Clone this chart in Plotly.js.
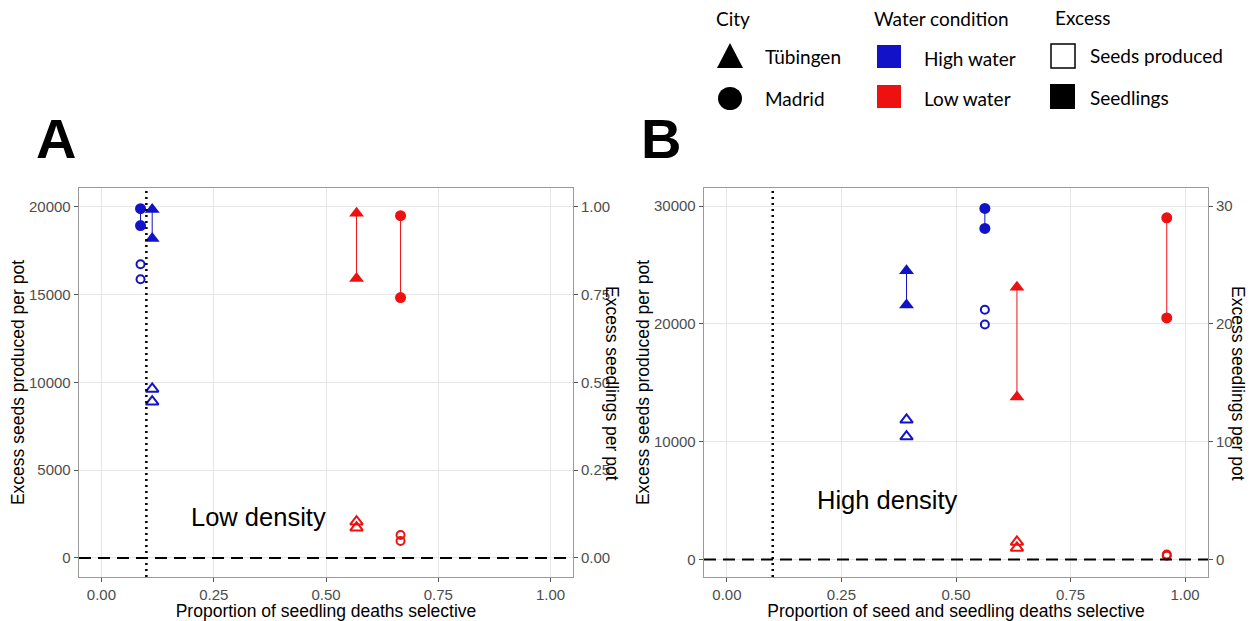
<!DOCTYPE html>
<html>
<head>
<meta charset="utf-8">
<script src="https://cdn.plot.ly/plotly-3.0.1.min.js"></script>
<style>html,body{margin:0;padding:0;background:#fff;} #chart{width:1253px;height:621px;}</style>
</head>
<body>
<div id="chart"></div>
<script>
// ---- Data ----
// group order: Tübingen-High, Madrid-High, Tübingen-Low, Madrid-Low
const groupCity  = ['Tübingen', 'Madrid', 'Tübingen', 'Madrid'];
const groupWater = ['High water', 'High water', 'Low water', 'Low water'];

// Panel A: low density
const lowDensityX = [0.113, 0.087, 0.568, 0.666];            // proportion of seedling deaths selective
const lowDensitySeedsProduced = [[9630, 8905], [16735, 15880], [2070, 1730], [1310, 970]];
const lowDensitySeedlings     = [[0.993, 0.910], [0.995, 0.947], [0.982, 0.796], [0.975, 0.742]];

// Panel B: high density
const highDensityX = [0.392, 0.563, 0.633, 0.960];           // proportion of seed and seedling deaths selective
const highDensitySeedsProduced = [[11860, 10440], [21200, 19950], [1500, 990], [430, 330]];
const highDensitySeedlings     = [[24.5, 21.6], [29.8, 28.1], [23.1, 13.8], [29.0, 20.5]];

const selectiveThreshold = 0.1;
const xTicks = [0, 0.25, 0.5, 0.75, 1];
const aSeedTicks = [0, 5000, 10000, 15000, 20000];
const aSeedlingTicks = [0, 0.25, 0.5, 0.75, 1];
const bSeedTicks = [0, 10000, 20000, 30000];
const bSeedlingTicks = [0, 10, 20, 30];

// ---- Styles ----
const COL = {'High water': '#1212c8', 'Low water': '#ee1111'};
const SYM = {'Tübingen': 'triangle-up', 'Madrid': 'circle'};
const W = 1253, H = 621;
const px = v => v / W, py = v => 1 - v / H;

function panelTraces(xs, seeds, seedlings, xa, ya, ya2) {
  const tr = [];
  for (let i = 0; i < xs.length; i++) {
    const c = COL[groupWater[i]], s = SYM[groupCity[i]];
    const tri = groupCity[i] === 'Tübingen';
    tr.push({
      type: 'scatter', mode: 'lines+markers', xaxis: xa, yaxis: ya2,
      x: [xs[i], xs[i]], y: seedlings[i],
      line: {color: c, width: 1},
      marker: {symbol: s, color: c, size: tri ? 13 : 11},
      showlegend: false, hoverinfo: 'x+y'
    });
    tr.push({
      type: 'scatter', mode: 'markers', xaxis: xa, yaxis: ya,
      x: [xs[i], xs[i]], y: seeds[i],
      marker: {symbol: s + '-open', color: c, size: tri ? 11 : 8, line: {color: c, width: 2}},
      showlegend: false, hoverinfo: 'x+y'
    });
  }
  return tr;
}

const data = [].concat(
  panelTraces(lowDensityX, lowDensitySeedsProduced, lowDensitySeedlings, 'x', 'y', 'y2'),
  panelTraces(highDensityX, highDensitySeedsProduced, highDensitySeedlings, 'x2', 'y3', 'y4')
);

const FAM = 'Liberation Sans, Arial, sans-serif';
const tickFont = {family: FAM, size: 15, color: '#4d4d4d'};
const titleFont = {family: FAM, size: 17.5, color: '#000'};
const gridC = '#e6e6e6', lineC = '#9a9a9a';

function xAx(domain, anchor, title) {
  return {domain, anchor, range: [-0.05, 1.05], tickvals: xTicks, tickformat: '.2f',
    showgrid: true, gridcolor: gridC, gridwidth: 1, zeroline: false,
    showline: true, mirror: true, linecolor: lineC, linewidth: 1.3,
    ticks: 'outside', ticklen: 4, tickcolor: '#555', tickfont: tickFont,
    title: {text: title, font: titleFont, standoff: 1},
    automargin: false, fixedrange: true};
}
function yAx(domain, anchor, range, ticks, title) {
  return {domain, anchor, range, tickvals: ticks, tickformat: 'd',
    showgrid: true, gridcolor: gridC, gridwidth: 1, zeroline: false,
    showline: true, mirror: true, linecolor: lineC, linewidth: 1.3,
    ticks: 'outside', ticklen: 4, tickcolor: '#555', tickfont: tickFont,
    title: {text: title, font: titleFont, standoff: 0},
    automargin: false, fixedrange: true};
}
function y2Ax(overlay, anchor, range, ticks, fmt) {
  return {overlaying: overlay, side: 'right', anchor, range, tickvals: ticks, tickformat: fmt,
    showgrid: false, zeroline: false, showline: false,
    ticks: 'outside', ticklen: 4, tickcolor: '#555', tickfont: tickFont,
    automargin: false, fixedrange: true};
}

const yDom = [py(577), py(188)];
const aRange = [-1083, 21080];
const bRange = [-1480, 31530];

const layout = {
  width: W, height: H,
  margin: {l: 0, r: 0, t: 0, b: 0},
  paper_bgcolor: '#fff', plot_bgcolor: '#fff',
  showlegend: false,
  xaxis:  xAx([px(79), px(573)], 'y', 'Proportion of seedling deaths selective'),
  yaxis:  yAx(yDom, 'x', aRange, aSeedTicks, 'Excess seeds produced per pot'),
  yaxis2: y2Ax('y', 'x', aRange.map(v => v / 20000), aSeedlingTicks, '.2f'),
  xaxis2: xAx([px(704), px(1208)], 'y3', 'Proportion of seed and seedling deaths selective'),
  yaxis3: yAx(yDom, 'x2', bRange, bSeedTicks, 'Excess seeds produced per pot'),
  yaxis4: y2Ax('y3', 'x2', bRange.map(v => v / 1000), bSeedlingTicks, 'd'),
  shapes: [
    {type: 'line', xref: 'x', yref: 'y domain', x0: selectiveThreshold, x1: selectiveThreshold, y0: 0, y1: 1,
     line: {color: '#000', width: 2.5, dash: '2px,4px'}, layer: 'above'},
    {type: 'line', xref: 'x domain', yref: 'y', x0: 0, x1: 1, y0: 0, y1: 0,
     line: {color: '#000', width: 2, dash: '12px,7px'}, layer: 'above'},
    {type: 'line', xref: 'x2', yref: 'y3 domain', x0: selectiveThreshold, x1: selectiveThreshold, y0: 0, y1: 1,
     line: {color: '#000', width: 2.5, dash: '2px,4px'}, layer: 'above'},
    {type: 'line', xref: 'x2 domain', yref: 'y3', x0: 0, x1: 1, y0: 0, y1: 0,
     line: {color: '#000', width: 2, dash: '12px,7px'}, layer: 'above'},
    // legend keys
    {type: 'path', xref: 'paper', yref: 'paper',
     path: `M${px(717)},${py(68)} L${px(743)},${py(68)} L${px(730)},${py(43)} Z`,
     fillcolor: '#000', line: {width: 0}},
    {type: 'circle', xref: 'paper', yref: 'paper', x0: px(718), x1: px(742), y0: py(110), y1: py(87),
     fillcolor: '#000', line: {width: 0}},
    {type: 'rect', xref: 'paper', yref: 'paper', x0: px(877), x1: px(901), y0: py(68), y1: py(45),
     fillcolor: '#1212c8', line: {width: 0}},
    {type: 'rect', xref: 'paper', yref: 'paper', x0: px(877), x1: px(901), y0: py(108), y1: py(85),
     fillcolor: '#ee1111', line: {width: 0}},
    {type: 'rect', xref: 'paper', yref: 'paper', x0: px(1051), x1: px(1075), y0: py(68), y1: py(44),
     fillcolor: '#fff', line: {color: '#000', width: 1.5}},
    {type: 'rect', xref: 'paper', yref: 'paper', x0: px(1050), x1: px(1075), y0: py(109), y1: py(84),
     fillcolor: '#000', line: {width: 0}}
  ],
  annotations: []
};

const legFont = {family: 'Lato, Open Sans, sans-serif', size: 19, color: '#000'};
const legTexts = [
  ['City', 714, 18], ['Tübingen', 763, 57], ['Madrid', 763, 98],
  ['Water condition', 872, 18], ['High water', 922, 59], ['Low water', 922, 98],
  ['Excess', 1053, 17], ['Seeds produced', 1088, 56], ['Seedlings', 1088, 97]
];
legTexts.forEach(([t, x, y]) => layout.annotations.push({
  text: t, xref: 'paper', yref: 'paper', x: px(x), y: py(y), xanchor: 'left', yanchor: 'middle',
  showarrow: false, font: legFont
}));

// panel letters
[['A', 56], ['B', 661]].forEach(([t, x]) => layout.annotations.push({
  text: '<b>' + t + '</b>', xref: 'paper', yref: 'paper', x: px(x), y: py(138), xanchor: 'center', yanchor: 'middle',
  showarrow: false, font: {family: FAM, size: 56, color: '#000'}
}));

// density labels
layout.annotations.push({text: 'Low density', xref: 'paper', yref: 'paper', x: px(258), y: py(517),
  xanchor: 'center', yanchor: 'middle', showarrow: false,
  font: {family: FAM, size: 25.5, color: '#000'}});
layout.annotations.push({text: 'High density', xref: 'paper', yref: 'paper', x: px(887), y: py(500),
  xanchor: 'center', yanchor: 'middle', showarrow: false,
  font: {family: FAM, size: 25.5, color: '#000'}});

// right-axis titles (read top to bottom)
[[612], [1238]].forEach(([x]) => layout.annotations.push({
  text: 'Excess seedlings per pot', xref: 'paper', yref: 'paper', x: px(x), y: py(383),
  xanchor: 'center', yanchor: 'middle', textangle: 90, showarrow: false, font: titleFont
}));

Plotly.newPlot('chart', data, layout, {displayModeBar: false, staticPlot: true});
</script>
</body>
</html>
